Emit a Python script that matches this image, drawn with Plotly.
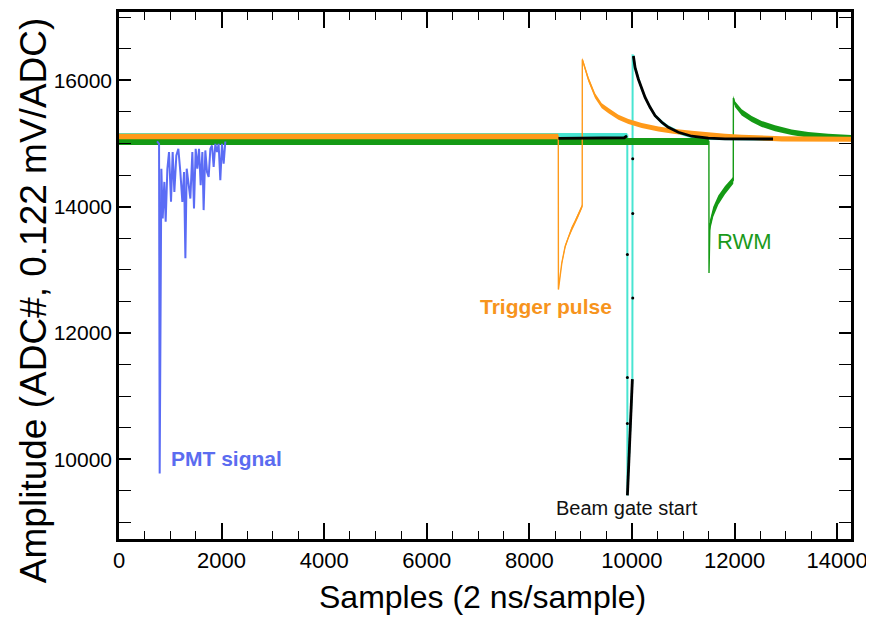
import numpy as np
import plotly.graph_objects as go

# ---------------- data ----------------
# RWM (green)
rwm_x = [0, 11500, 11502, 11519, 11585, 11683, 11814, 11975, 11977, 12008, 12139,
         12334, 12529, 12788, 13113, 13437, 13826, 14300]
rwm_y = [15030, 15030, 12948, 13700, 13919, 14103, 14260, 14418, 15720, 15623, 15492,
         15387, 15308, 15240, 15177, 15135, 15110, 15085]
rwm_noise = [55, 55, 0, 85, 80, 75, 65, 55, 40, 45, 48, 48, 48, 48, 45, 45, 45, 45]

# Trigger pulse (orange)
trig_x = [0, 8564, 8566, 8632, 8697, 8761, 8827, 8892, 8956, 9030, 9032, 9151, 9281,
          9411, 9541, 9736, 9930, 10190, 10515, 10840, 11165, 11489, 11814, 12139,
          12528, 12918, 14300]
trig_y = [15110, 15110, 12687, 13106, 13368, 13526, 13656, 13762, 13867, 14010, 16330,
          16016, 15754, 15597, 15519, 15413, 15346, 15283, 15229, 15188, 15162, 15135,
          15114, 15099, 15083, 15072, 15065]
trig_noise = [45, 45, 0, 30, 30, 30, 30, 30, 30, 30, 30, 40, 40, 40, 40, 40, 40, 40,
              40, 40, 40, 40, 40, 40, 40, 40, 40]

# Beam gate (cyan)
gate_x = [0, 9909, 9911, 9963, 10008, 10013, 10028, 10061, 10125, 10191, 10256, 10353,
          10451, 10581, 10709, 10904, 11165, 11489, 11814, 14300]
gate_y = [15125, 15125, 9430, 10353, 11270, 16390, 16384, 16200, 16016, 15858, 15728,
          15571, 15440, 15335, 15256, 15177, 15114, 15083, 15072, 15070]
gate_noise = [40, 40, 0, 0, 0, 0, 30, 30, 30, 30, 30, 30, 30, 30, 30, 30, 30, 30, 30, 30]

# Beam gate sampled points (black)
dots_x = [8566, 9850, 9904, None, 9911, 9963, 10008, None, 10028, 10061, 10125, 10191,
          10256, 10353, 10451, 10581, 10709, 10904, 11165, 11489, 11814, 12750]
dots_y = [15080, 15090, 15120, None, 9430, 10353, 11270, None, 16384, 16200, 16016,
          15858, 15728, 15571, 15440, 15335, 15256, 15177, 15114, 15083, 15072, 15070]
sparse_x = [10015, 10015, 10015, 9911, 9911, 9911]
sparse_y = [14757, 13892, 12555, 13242, 11296, 10568]

# PMT signal (blue)
pmt_x = [742, 781, 793, 813, 826, 852, 884, 910, 943, 975, 1014, 1046, 1079, 1118,
         1157, 1196, 1235, 1268, 1294, 1320, 1352, 1391, 1430, 1462, 1495, 1527, 1560,
         1592, 1625, 1650, 1683, 1716, 1748, 1781, 1813, 1845, 1878, 1911, 1942, 1975,
         2008, 2040, 2073]
pmt_y = [15031, 14993, 9777, 13656, 14600, 13813, 14391, 13761, 14600, 14863, 14076,
         14863, 14233, 14810, 14915, 14548, 14076, 14548, 13184, 14600, 14338, 14128,
         14863, 13971, 14915, 14600, 14915, 14338, 14863, 13945, 14889, 14548, 14470,
         14915, 14968, 14627, 14993, 14863, 14993, 14417, 14993, 14679, 15031]

labels = ["PMT signal", "Trigger pulse", "RWM", "Beam gate start"]
label_x = [2102, 8327, 12203, 9904]
label_y = [10018, 12424, 13446, 9232]

x_range = [0, 14270]
y_range = [8740, 17080]

C_GREEN = "#159a15"
C_ORANGE = "#ff9a1a"
C_CYAN = "#48e5d2"
C_BLUE = "#5b6cf5"

FONT = "Liberation Sans, Arial, Helvetica, sans-serif"

fig = go.Figure()


def add_band(xs, ys, noise, color, lw):
    xs = np.array(xs, dtype=float)
    ys = np.array(ys, dtype=float)
    nz = np.array(noise, dtype=float)
    bx = np.concatenate([xs, xs[::-1]])
    by = np.concatenate([ys + nz, (ys - nz)[::-1]])
    fig.add_trace(go.Scatter(x=bx, y=by, fill="toself", fillcolor=color,
                             line=dict(width=0, color=color), mode="lines",
                             hoverinfo="skip", showlegend=False))
    fig.add_trace(go.Scatter(x=xs, y=ys, mode="lines",
                             line=dict(width=lw, color=color),
                             showlegend=False))


add_band(gate_x, gate_y, gate_noise, C_CYAN, 2.0)
add_band(rwm_x, rwm_y, rwm_noise, C_GREEN, 1.4)
add_band(trig_x, trig_y, trig_noise, C_ORANGE, 1.4)

fig.add_trace(go.Scatter(x=dots_x, y=dots_y, mode="lines",
                         line=dict(width=2.8, color="black"),
                         connectgaps=False, showlegend=False))
fig.add_trace(go.Scatter(x=sparse_x, y=sparse_y, mode="markers",
                         marker=dict(size=3, color="black"), showlegend=False))
fig.add_trace(go.Scatter(x=pmt_x, y=pmt_y, mode="lines",
                         line=dict(width=2.0, color=C_BLUE), showlegend=False))

label_styles = [
    dict(color="#5b6cf0", size=21, bold=True),
    dict(color="#f7941d", size=21, bold=True),
    dict(color="#1a9a1a", size=22, bold=False),
    dict(color="#111111", size=20, bold=False),
]
for t, lx, ly, st in zip(labels, label_x, label_y, label_styles):
    txt = f"<b>{t}</b>" if st["bold"] else t
    fig.add_annotation(x=lx, y=ly, text=txt, showarrow=False,
                       xanchor="center", yanchor="middle",
                       font=dict(family=FONT, size=st["size"], color=st["color"]))

# axis titles
fig.add_annotation(xref="paper", yref="paper", x=0.497, y=-0.111,
                   text="Samples (2 ns/sample)", showarrow=False,
                   xanchor="center", yanchor="middle",
                   font=dict(family=FONT, size=32, color="black"))
fig.add_annotation(xref="paper", yref="paper", x=-0.117, y=0.452,
                   text="Amplitude (ADC#, 0.122 mV/ADC)", showarrow=False,
                   textangle=-90, xanchor="center", yanchor="middle",
                   font=dict(family=FONT, size=37, color="black"))

fig.update_xaxes(range=x_range, dtick=2000, tick0=0, tickformat="d",
                 ticks="inside", ticklen=16,
                 tickwidth=1.5, tickcolor="black", showline=True, linewidth=2.5,
                 linecolor="black", mirror="ticks", showgrid=False, zeroline=False,
                 tickfont=dict(family=FONT, size=22, color="black"),
                 minor=dict(dtick=500, ticks="inside", ticklen=8, tickwidth=1.3,
                            tickcolor="black", showgrid=False))
fig.update_yaxes(range=y_range, dtick=2000, tick0=0, tickformat="d",
                 ticks="inside", ticklen=12,
                 tickwidth=1.5, tickcolor="black", showline=True, linewidth=2.5,
                 linecolor="black", mirror="ticks", showgrid=False, zeroline=False,
                 tickfont=dict(family=FONT, size=21, color="black"),
                 minor=dict(dtick=500, ticks="inside", ticklen=12, tickwidth=1.3,
                            tickcolor="black", showgrid=False))

# page body has an 8 px margin: size the figure so the plot area lands where it should
fig.update_layout(width=866, height=615, margin=dict(l=111, r=23, t=1, b=84),
                  paper_bgcolor="white", plot_bgcolor="white", showlegend=False)

fig.write_html("out.html")
